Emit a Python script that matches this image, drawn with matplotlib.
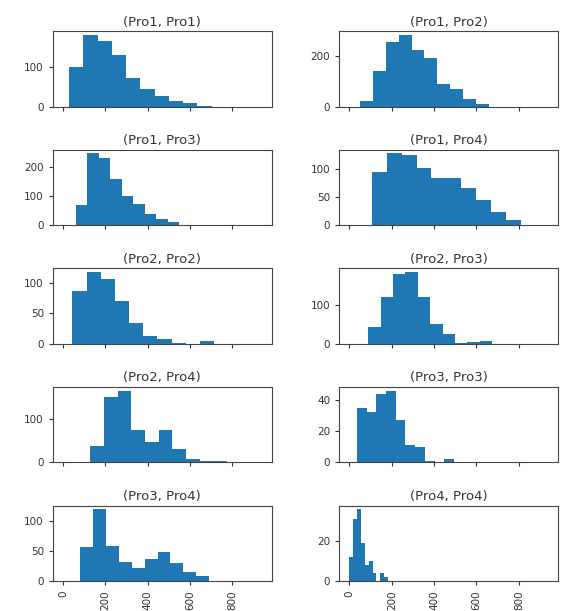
import matplotlib
matplotlib.use('Agg')
import matplotlib.pyplot as plt
import numpy as np

# pair names and histogram counts (10 bins each)
pairs = ['(Pro1, Pro1)', '(Pro1, Pro2)', '(Pro1, Pro3)', '(Pro1, Pro4)',
         '(Pro2, Pro2)', '(Pro2, Pro3)', '(Pro2, Pro4)', '(Pro3, Pro3)',
         '(Pro3, Pro4)', '(Pro4, Pro4)']

counts = [
    [100, 183, 168, 131, 72, 45, 27, 15, 9, 3],
    [23, 140, 256, 284, 222, 191, 89, 68, 30, 10],
    [71, 246, 230, 158, 100, 74, 38, 21, 10, 2],
    [94, 127, 124, 102, 83, 83, 66, 44, 24, 9],
    [87, 118, 107, 70, 35, 13, 8, 2, 0, 5],
    [42, 121, 178, 184, 120, 50, 24, 3, 4, 8],
    [38, 149, 164, 73, 46, 75, 30, 7, 4, 4],
    [35, 32, 44, 46, 27, 11, 10, 1, 0, 2.5],
    [57, 120, 58, 31, 22, 37, 48, 30, 15, 8],
    [12, 31, 36, 19, 8, 10, 4, 0, 4, 2],
]

# value range covered by the 10 bins of each histogram
bin_ranges = [(29, 702), (50, 659), (60, 603), (105, 811), (44, 713),
              (88, 675), (129, 774), (35, 494), (81, 690), (-2, 183)]

yticks = [[0, 100], [0, 200], [0, 100, 200], [0, 50, 100], [0, 50, 100],
          [0, 100], [0, 100], [0, 20, 40], [0, 50, 100], [0, 20]]

xticks = [0, 200, 400, 600, 800]

fig, axes = plt.subplots(5, 2, figsize=(5.63, 6.11), dpi=100, sharex=True)
plt.subplots_adjust(left=0.094, right=0.991, top=0.949, bottom=0.049,
                    wspace=0.31, hspace=0.57)

for i, ax in enumerate(axes.flat):
    lo, hi = bin_ranges[i]
    edges = np.linspace(lo, hi, len(counts[i]) + 1)
    ax.hist(edges[:-1], bins=edges, weights=counts[i], color='#1f77b4')
    ax.set_title(pairs[i], fontsize=9.5, color='#333333', pad=4)
    ax.set_yticks(yticks[i])
    ax.set_xticks(xticks)
    ax.tick_params(labelsize=7.5, colors='#333333', length=3, width=0.8)
    for s in ax.spines.values():
        s.set_color('#444444')
        s.set_linewidth(0.8)

axes[0, 0].set_xlim(-48, 985)
for ax in axes[-1]:
    ax.tick_params(axis='x', labelrotation=90)

plt.savefig('out.png', dpi=100)
